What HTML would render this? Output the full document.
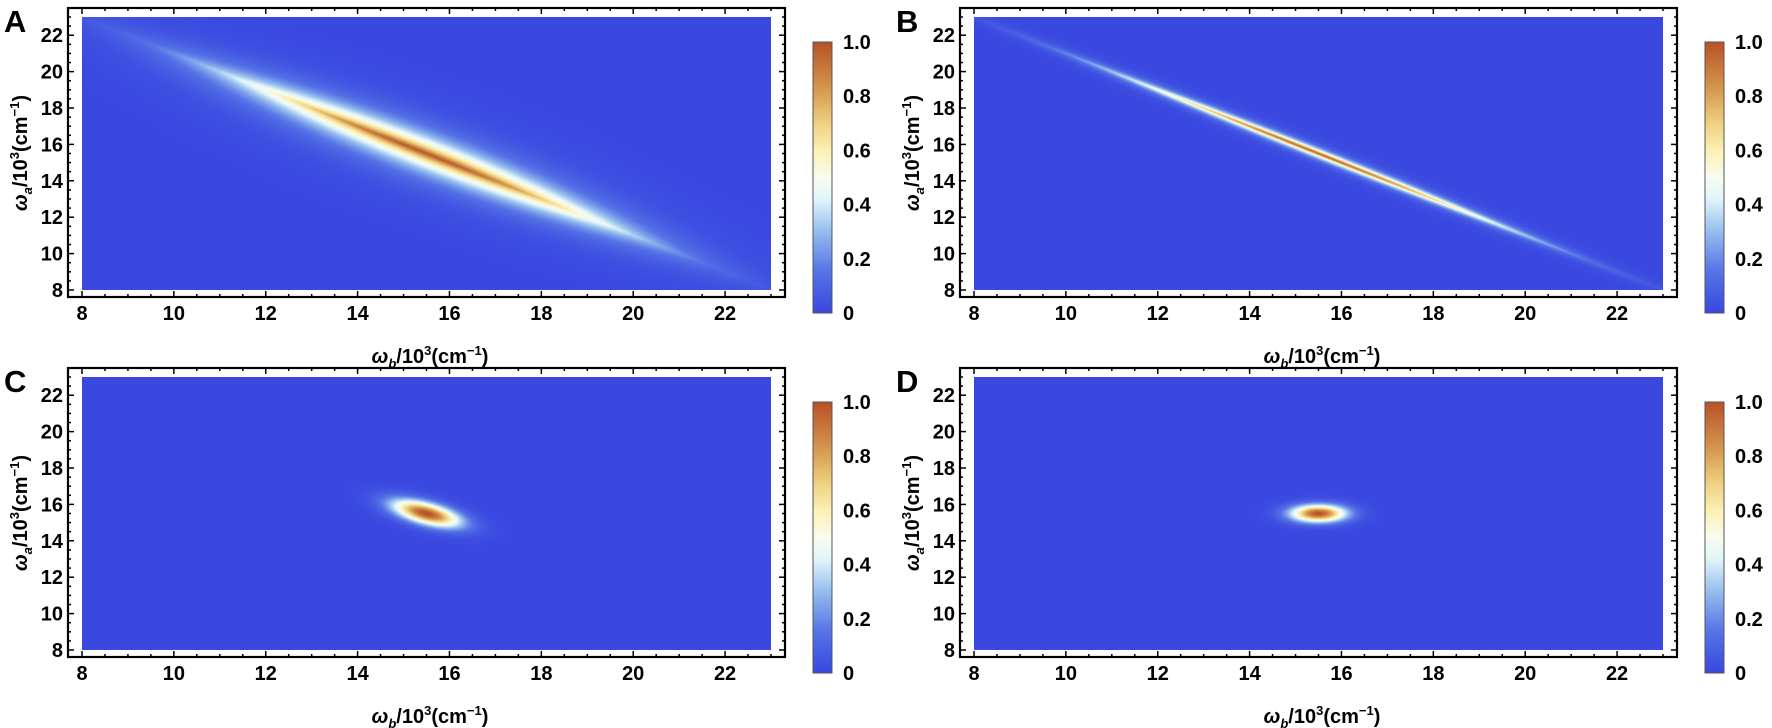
<!DOCTYPE html>
<html><head><meta charset="utf-8"><style>
html,body{margin:0;padding:0;background:#fff;width:1772px;height:728px;overflow:hidden}
#root{position:relative;width:1772px;height:728px}
canvas{position:absolute}
svg{position:absolute;left:0;top:0}
text{font-family:"Liberation Sans",Arial,sans-serif;font-weight:bold;fill:#000}
</style></head><body><div id="root"><svg id="s" width="1772" height="728" xmlns="http://www.w3.org/2000/svg"></svg></div>
<script>
const NS="http://www.w3.org/2000/svg";
const svg=document.getElementById('s');
const root=document.getElementById('root');
function el(t,a,txt){const e=document.createElementNS(NS,t);for(const k in a)e.setAttribute(k,a[k]);if(txt!==undefined)e.textContent=txt;svg.appendChild(e);return e;}
const stops=[[0,[58,72,224]],[0.15,[85,115,230]],[0.3,[150,190,238]],[0.42,[225,245,250]],[0.5,[248,252,240]],[0.6,[252,240,180]],[0.7,[240,210,130]],[0.82,[215,155,80]],[1,[184,82,40]]];
function cmap(v){v=Math.max(0,Math.min(1,v));for(let i=1;i<stops.length;i++){if(v<=stops[i][0]){const a=stops[i-1],b=stops[i];const t=(v-a[0])/(b[0]-a[0]);return [0,1,2].map(j=>Math.round(a[1][j]+(b[1][j]-a[1][j])*t));}}return stops[stops.length-1][1];}
const R2=Math.SQRT2;
function prof(v,a,e){return Math.exp(-Math.pow(Math.abs(v)/a,e));}
const funcs=[
 (x,y)=>{const u=(x-y)/R2,v=(x+y-31)/R2;return Math.exp(-u*u/(2*4.4*4.4))*prof(v,0.6,1.05);},
 (x,y)=>{const u=(x-y)/R2,v=(x+y-31)/R2;return Math.exp(-u*u/(2*4.3*4.3))*prof(v,0.16,1.15);},
 (x,y)=>{const u=(x-15.5-(y-15.5))/R2,v=(x-15.5+y-15.5)/R2;return Math.exp(-u*u/(2*0.65*0.65))*Math.exp(-v*v/(2*0.33*0.33));},
 (x,y)=>{const a=x-15.5,b=y-15.5;return Math.exp(-a*a/(2*0.42*0.42))*Math.exp(-b*b/(2*0.33*0.33));}
];
const letters=["A","B","C","D"];
for(let p=0;p<4;p++){
 const dx=(p%2)*892, dy=Math.floor(p/2)*360;
 const L=82+dx,T=17+dy,W=689,H=273;
 const X=v=>L+(v-8)*W/15, Y=v=>T+H-(v-8)*H/15;
 const c=document.createElement('canvas');c.width=W;c.height=H;c.style.left=L+'px';c.style.top=T+'px';
 root.insertBefore(c,svg);
 const ctx=c.getContext('2d');const img=ctx.createImageData(W,H);
 for(let j=0;j<H;j++){const y=23-(j+0.5)*15/H;for(let i=0;i<W;i++){const x=8+(i+0.5)*15/W;const col=cmap(funcs[p](x,y));const k=(j*W+i)*4;img.data[k]=col[0];img.data[k+1]=col[1];img.data[k+2]=col[2];img.data[k+3]=255;}}
 ctx.putImageData(img,0,0);
 const fl=68+dx,ft=8+dy,fr=785+dx,fb=297+dy;
 el('rect',{x:fl,y:ft,width:fr-fl,height:fb-ft,fill:'none',stroke:'#000','stroke-width':2.2});
 for(let v=8;v<=23.001;v+=0.5){
  const maj=Math.abs(v-Math.round(v/2)*2)<1e-6;
  const len=maj?6:3;
  const xx=X(v);
  el('line',{x1:xx,y1:fb,x2:xx,y2:fb-len,stroke:'#000','stroke-width':1.5});
  el('line',{x1:xx,y1:ft,x2:xx,y2:ft+len,stroke:'#000','stroke-width':1.5});
  const yy=Y(v);
  el('line',{x1:fl,y1:yy,x2:fl+len,y2:yy,stroke:'#000','stroke-width':1.5});
  el('line',{x1:fr,y1:yy,x2:fr-len,y2:yy,stroke:'#000','stroke-width':1.5});
 }
 for(let v=8;v<=22;v+=2){
  el('text',{x:X(v),y:fb+23,'font-size':20,'text-anchor':'middle'},String(v));
  el('text',{x:fl-5,y:Y(v)+7,'font-size':20,'text-anchor':'end'},String(v));
 }
 const xl=el('text',{x:430+dx,y:363+dy,'font-size':20,'text-anchor':'middle'});
 xl.innerHTML='<tspan font-style="italic">ω</tspan><tspan font-size="13" font-style="italic" dy="5">b</tspan><tspan dy="-5">/10</tspan><tspan font-size="13" dy="-8">3</tspan><tspan dy="8">(cm</tspan><tspan font-size="13" dy="-8">−1</tspan><tspan dy="8">)</tspan>';
 const yl=el('text',{x:0,y:0,'font-size':20,'text-anchor':'middle',transform:`translate(${27+dx},${153+dy}) rotate(-90)`});
 yl.innerHTML='<tspan font-style="italic">ω</tspan><tspan font-size="13" font-style="italic" dy="5">a</tspan><tspan dy="-5">/10</tspan><tspan font-size="13" dy="-8">3</tspan><tspan dy="8">(cm</tspan><tspan font-size="13" dy="-8">−1</tspan><tspan dy="8">)</tspan>';
 el('text',{x:4+dx,y:32+dy,'font-size':31},letters[p]);
 const cbL=813+dx,cbT=42+dy,cbW=19,cbH=271;
 const cc=document.createElement('canvas');cc.width=cbW;cc.height=cbH;cc.style.left=cbL+'px';cc.style.top=cbT+'px';root.insertBefore(cc,svg);
 const c2=cc.getContext('2d');
 for(let j=0;j<cbH;j++){const col=cmap(1-j/(cbH-1));c2.fillStyle=`rgb(${col[0]},${col[1]},${col[2]})`;c2.fillRect(0,j,cbW,1);}
 el('rect',{x:cbL,y:cbT,width:cbW,height:cbH,fill:'none',stroke:'#555','stroke-width':1});
 const labs=["0","0.2","0.4","0.6","0.8","1.0"];
 for(let i=0;i<6;i++){const yy=cbT+cbH-i*cbH/5;el('text',{x:cbL+30,y:yy+7,'font-size':20},labs[i]);}
}
</script></body></html>
